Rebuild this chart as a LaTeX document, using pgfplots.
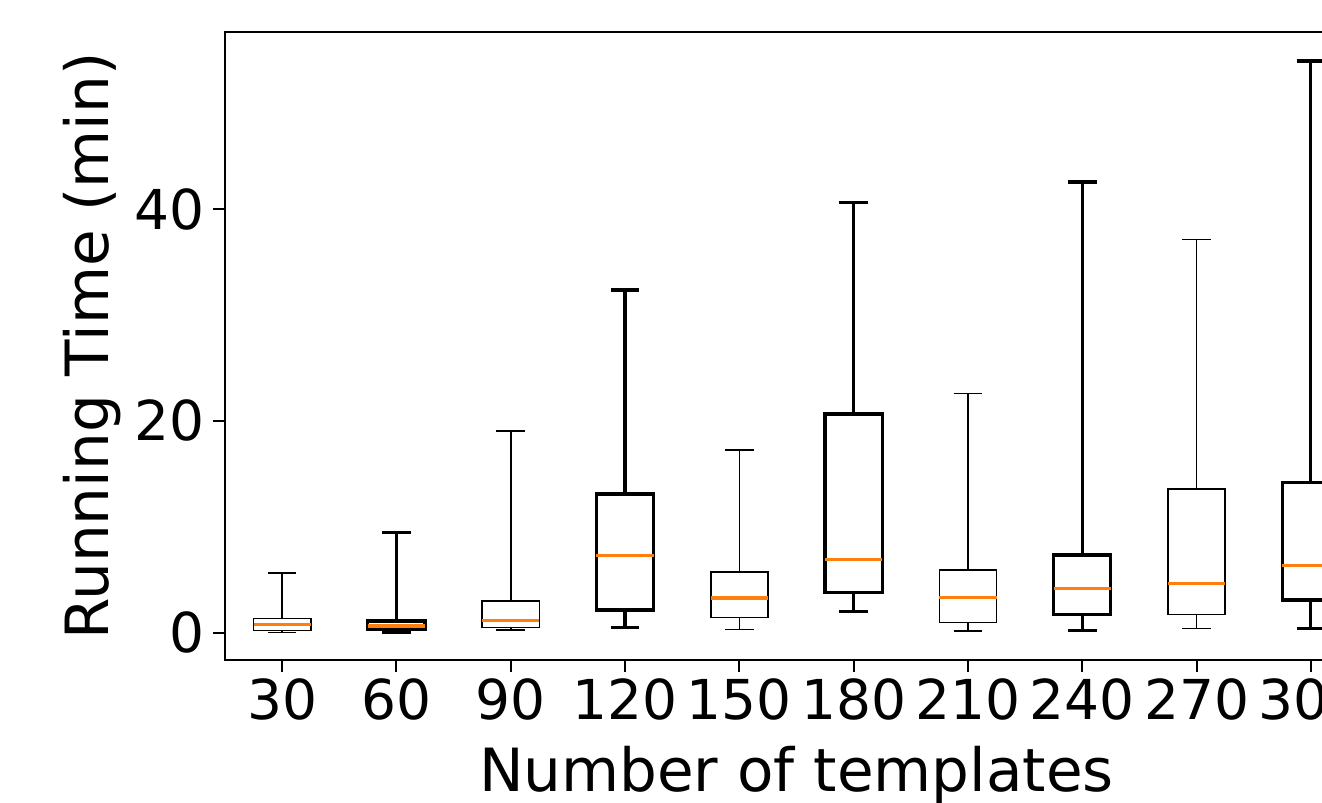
\documentclass[border=0pt]{standalone}
\usepackage{pgfplots}
\pgfplotsset{compat=1.18}
\usepgfplotslibrary{statistics}
\usepackage{fontspec}
\setmainfont{DejaVu Sans}
\definecolor{mplorange}{HTML}{FF7F0E}

\begin{document}
\begin{tikzpicture}
\begin{axis}[
  at={(0pt,0pt)}, anchor=south west,
  scale only axis, width=285.75pt, height=157pt,
  xmin=0.5, xmax=10.5, ymin=-2.55, ymax=56.7,
  xtick={1,...,10}, xticklabels={30,60,90,120,150,180,210,240,270,300},
  ytick={0,20,40},
  xtick pos=left, ytick pos=left,
  tick align=outside, major tick length=3pt,
  every tick/.style={black, line width=0.5pt},
  axis line style={line width=0.5pt},
  /pgf/number format/assume math mode=true,
  tick label style={font=\fontsize{13.75}{16}\selectfont},
  xticklabel style={yshift=1.75pt},
  yticklabel style={xshift=1.5pt},
  xlabel={Number of templates}, ylabel={Running Time (min)},
  label style={font=\fontsize{14.9}{17}\selectfont},
  xlabel style={at={(axis description cs:0.5,0)}, anchor=base, inner sep=0pt, yshift=-33pt},
  ylabel style={at={(axis description cs:-0.0905,0.5)}, anchor=south, inner sep=0pt},
  boxplot/draw direction=y,
  boxplot/box extend=0.5,
  boxplot/whisker extend=0.25,
  boxplot/every median/.style={draw=mplorange, line width=0.8pt},
  cycle list={{black, line width=0.8pt}},
]
\addplot+[boxplot prepared={lower whisker=0.05, lower quartile=0.22, median=0.82, upper quartile=1.38, upper whisker=5.63}] coordinates {};
\addplot+[boxplot prepared={lower whisker=0.08, lower quartile=0.35, median=0.66, upper quartile=1.13, upper whisker=9.47}] coordinates {};
\addplot+[boxplot prepared={lower whisker=0.28, lower quartile=0.50, median=1.16, upper quartile=3.02, upper whisker=19.06}] coordinates {};
\addplot+[boxplot prepared={lower whisker=0.54, lower quartile=2.17, median=7.33, upper quartile=13.11, upper whisker=32.36}] coordinates {};
\addplot+[boxplot prepared={lower whisker=0.32, lower quartile=1.45, median=3.30, upper quartile=5.75, upper whisker=17.26}] coordinates {};
\addplot+[boxplot prepared={lower whisker=2.01, lower quartile=3.84, median=6.95, upper quartile=20.66, upper whisker=40.63}] coordinates {};
\addplot+[boxplot prepared={lower whisker=0.19, lower quartile=1.00, median=3.33, upper quartile=5.94, upper whisker=22.61}] coordinates {};
\addplot+[boxplot prepared={lower whisker=0.22, lower quartile=1.76, median=4.21, upper quartile=7.36, upper whisker=42.55}] coordinates {};
\addplot+[boxplot prepared={lower whisker=0.44, lower quartile=1.76, median=4.65, upper quartile=13.58, upper whisker=37.14}] coordinates {};
\addplot+[boxplot prepared={lower whisker=0.44, lower quartile=3.11, median=6.35, upper quartile=14.21, upper whisker=53.96}] coordinates {};
\end{axis}
\pgfresetboundingbox
\path[use as bounding box] (-56.25pt,-35.75pt) rectangle (274.25pt,165pt);
\end{tikzpicture}
\end{document}
